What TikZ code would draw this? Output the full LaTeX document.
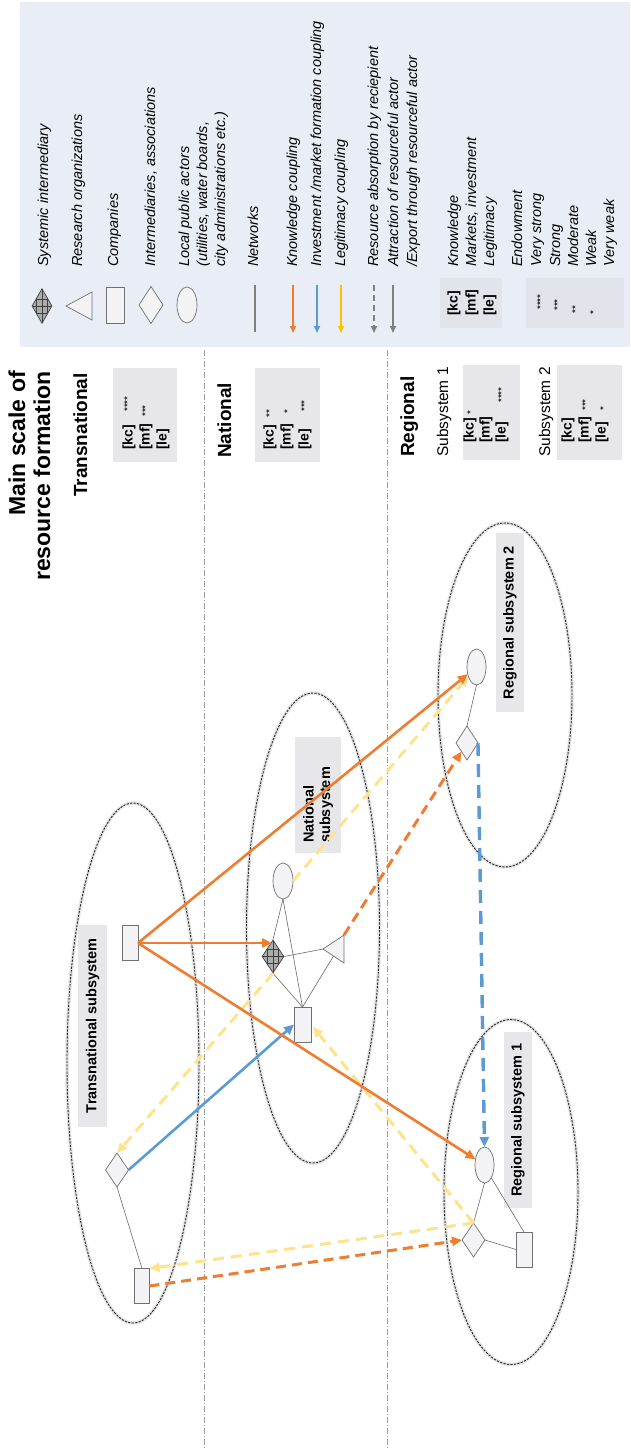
\documentclass[tikz,border=0pt]{standalone}
\usepackage{fontspec}
\setmainfont{Liberation Sans}
\usetikzlibrary{shapes.geometric,arrows.meta,calc}

\definecolor{kOrange}{HTML}{ED7D31}
\definecolor{kBlue}{HTML}{5B9BD5}
\definecolor{kGold}{HTML}{FFC000}
\definecolor{kPale}{HTML}{FFE28C}
\definecolor{legendBg}{HTML}{E9EEF6}
\definecolor{legendBox}{HTML}{E1E4EA}
\definecolor{labelBox}{HTML}{E7E7E9}
\definecolor{actorFill}{HTML}{F3F3F5}
\definecolor{actorLine}{HTML}{707070}
\definecolor{netLine}{HTML}{6A6A6A}
\definecolor{tipGray}{HTML}{7F7F7F}

\newcommand{\fsz}[2]{\fontsize{#1}{#2}\selectfont}

\begin{document}
\begin{tikzpicture}[x=1pt,y=-1pt,
  actor/.style={draw=actorLine, fill=actorFill, line width=0.7pt, inner sep=0pt, outer sep=0pt},
  actorpath/.style={draw=actorLine, fill=actorFill, line width=0.7pt, line join=miter},
  company/.style={actor, rectangle, minimum width=16pt, minimum height=35pt},
  interm/.style={actor, diamond, minimum width=23pt, minimum height=34pt},
  public/.style={actor, ellipse, minimum width=19pt, minimum height=36pt},
  sysint/.style={diamond, draw=black!75, fill=gray!65, line width=0.7pt, inner sep=0pt,
    minimum width=22pt, minimum height=33pt,
    path picture={
      \foreach \hh in {-5.5,0,5.5}{\draw[black!75,line width=0.5pt]
        ([xshift=\hh pt]path picture bounding box.north) -- ([xshift=\hh pt]path picture bounding box.south);}
      \foreach \hh in {-7,0,7}{\draw[black!75,line width=0.5pt]
        ([yshift=\hh pt]path picture bounding box.west) -- ([yshift=\hh pt]path picture bounding box.east);}
    }},
  resframe/.style={rectangle, inner sep=0pt, outer sep=0pt, minimum width=21pt, minimum height=28pt},
  net/.style={draw=netLine, line width=0.6pt},
  subsys/.style={ellipse, draw=black!85, line width=0.9pt, dash pattern=on 2.2pt off 1.3pt,
    inner sep=0pt, preaction={draw=gray!22, solid, line width=3.5pt}},
  labfont/.style={font=\bfseries\fsz{14.5}{16.5}},
  sublabel/.style={rotate=90, fill=labelBox, inner sep=0pt, labfont},
  tipM/.style={-{Triangle[length=10pt,width=9pt]}},
  know/.style={tipM, draw=kOrange, line width=2.6pt},
  knowd/.style={tipM, draw=kOrange, line width=3pt, dash pattern=on 10pt off 6pt},
  inv/.style={tipM, draw=kBlue, line width=2.6pt},
  invd/.style={tipM, draw=kBlue, line width=3.4pt, dash pattern=on 13pt off 8pt},
  legi/.style={tipM, draw=kPale, line width=3pt, dash pattern=on 11pt off 7pt},
  tipL/.style={-{Triangle[length=7pt,width=6pt]}, line width=1.6pt},
  vtext/.style={rotate=90, anchor=base west, inner sep=0pt},
  legtxt/.style={vtext, font=\itshape\fsz{14.5}{18}},
  boxtxt/.style={vtext, font=\bfseries\fsz{14}{16}},
  stars/.style={vtext, font=\fsz{10}{10}},
  scaletxt/.style={vtext, font=\bfseries\fsz{19}{22}},
  subtxt/.style={vtext, font=\fsz{15.5}{18}},
  titletxt/.style={rotate=90, anchor=base east, inner sep=0pt, font=\bfseries\fsz{23}{26}},
  scaleline/.style={draw=gray!75, line width=0.7pt, dash pattern=on 6pt off 2pt on 1pt off 2pt}
]

\useasboundingbox (0,0) rectangle (630,1450);
\fill[white] (0,0) rectangle (630,1450);

% ---------- legend panel ----------
\fill[legendBg] (20,2) rectangle (630,347);
\fill[legendBox] (440,278) rectangle (502,328);
\fill[legendBox] (526,278) rectangle (624,328);

\node[sysint, minimum width=20pt, minimum height=35pt] (lgSys) at (42,306) {};
\node[resframe, minimum width=26pt, minimum height=28pt] (lgRes) at (79,306) {};
\draw[actorpath] (lgRes.west) -- (lgRes.north east) -- (lgRes.south east) -- cycle;
\node[company, minimum width=18pt, minimum height=36pt] (lgCom) at (115,305) {};
\node[interm, minimum width=24pt, minimum height=37pt] (lgInt) at (151,305) {};
\node[public, minimum width=20pt, minimum height=36pt] (lgPub) at (187,305) {};

\coordinate (lgNetA) at (255,285); \coordinate (lgNetB) at (255,332);
\draw[draw=tipGray, line width=1.2pt] (lgNetA) -- (lgNetB);
\coordinate (lgKA) at (293,285); \coordinate (lgKB) at (293,333);
\draw[tipL, draw=kOrange] (lgKA) -- (lgKB);
\coordinate (lgIA) at (317,285); \coordinate (lgIB) at (317,333);
\draw[tipL, draw=kBlue] (lgIA) -- (lgIB);
\coordinate (lgLA) at (341,285); \coordinate (lgLB) at (341,333);
\draw[tipL, draw=kGold] (lgLA) -- (lgLB);
\coordinate (lgAbA) at (374,285); \coordinate (lgAbB) at (374,333);
\draw[tipL, draw=tipGray, dash pattern=on 6pt off 4pt] (lgAbA) -- (lgAbB);
\coordinate (lgAtA) at (393,285); \coordinate (lgAtB) at (393,333);
\draw[tipL, draw=tipGray] (lgAtA) -- (lgAtB);

\node[legtxt] (tx01) at (48,267) {Systemic intermediary};
\node[legtxt] (tx02) at (82,267) {Research organizations};
\node[legtxt] (tx03) at (118,267) {Companies};
\node[legtxt] (tx04) at (155,267) {Intermediaries, associations};
\node[legtxt] (tx05) at (189,267) {Local public actors};
\node[legtxt] (tx06) at (207,267) {(utilities, water boards,};
\node[legtxt] (tx07) at (225,267) {city administrations etc.)};
\node[legtxt] (tx08) at (258,267) {Networks};
\node[legtxt] (tx09) at (297,267) {Knowledge coupling};
\node[legtxt] (tx10) at (321,267) {Investment /market formation coupling};
\node[legtxt] (tx11) at (345,267) {Legitimacy coupling};
\node[legtxt] (tx12) at (378,267) {Resource absorption by reciepient};
\node[legtxt] (tx13) at (398,267) {Attraction of resourceful actor};
\node[legtxt] (tx14) at (417,267) {/Export through resourceful actor};
\node[legtxt] (tx15) at (458,267) {Knowledge};
\node[legtxt] (tx16) at (476,267) {Markets, investment};
\node[legtxt] (tx17) at (494,267) {Legitimacy};
\node[legtxt] (tx18) at (522,267) {Endowment};
\node[legtxt] (tx19) at (541,267) {Very strong};
\node[legtxt] (tx20) at (560,267) {Strong};
\node[legtxt] (tx21) at (578,267) {Moderate};
\node[legtxt] (tx22) at (596,267) {Weak};
\node[legtxt] (tx23) at (614,267) {Very weak};

\node[boxtxt] (lgKc) at (457.6,316) {[kc]};
\node[boxtxt] (lgMf) at (475.6,316) {[mf]};
\node[boxtxt] (lgLe) at (493.6,316) {[le]};
\node[stars] (lgS4) at (543.8,310) {****};
\node[stars] (lgS3) at (560.8,311) {***};
\node[stars] (lgS2) at (578.8,314) {**};
\node[stars] (lgS1) at (596.8,315) {*};

% ---------- scale column ----------
\draw[scaleline] (204,350) -- (204,1450);
\draw[scaleline] (387,350) -- (387,1450);

\node[titletxt] (title1) at (25,371) {Main scale of};
\node[titletxt] (title2) at (50,371) {resource formation};

\node[scaletxt] (scT) at (87,497) {Transnational};
\node[scaletxt] (scN) at (231,458) {National};
\node[scaletxt] (scR) at (414,457) {Regional};
\node[subtxt] (scR1) at (448,457) {Subsystem 1};
\node[subtxt] (scR2) at (550,457) {Subsystem 2};

\fill[labelBox] (113,368) rectangle (177,462);
\fill[labelBox] (255,368) rectangle (320,462);
\fill[labelBox] (463,365) rectangle (520,460);
\fill[labelBox] (557,365) rectangle (622,460);

\node[boxtxt] (tKc) at (132.6,450) {[kc]};
\node[boxtxt] (tMf) at (149.6,450) {[mf]};
\node[boxtxt] (tLe) at (166.6,450) {[le]};
\node[stars] (tS1) at (130.8,412) {****};
\node[stars] (tS2) at (148.8,417) {***};

\node[boxtxt] (nKc) at (273.6,450) {[kc]};
\node[boxtxt] (nMf) at (290.6,450) {[mf]};
\node[boxtxt] (nLe) at (308.6,450) {[le]};
\node[stars] (nS1) at (272.8,418) {**};
\node[stars] (nS2) at (290.8,414) {*};
\node[stars] (nS3) at (307.8,412) {***};

\node[boxtxt] (aKc) at (473.6,443) {[kc]};
\node[boxtxt] (aMf) at (489.6,443) {[mf]};
\node[boxtxt] (aLe) at (505.6,443) {[le]};
\node[stars] (aS1) at (473.8,415) {*};
\node[stars] (aS2) at (504.8,403) {****};

\node[boxtxt] (bKc) at (571.6,443) {[kc]};
\node[boxtxt] (bMf) at (588.6,443) {[mf]};
\node[boxtxt] (bLe) at (605.6,443) {[le]};
\node[stars] (bS1) at (588.8,411) {***};
\node[stars] (bS2) at (606.8,411) {*};

% ---------- subsystems ----------
\node[subsys, minimum width=132pt, minimum height=520pt] (sysT) at (133,1063) {};
\node[subsys, minimum width=133pt, minimum height=470pt] (sysN) at (313,928) {};
\node[subsys, minimum width=134pt, minimum height=344pt] (sysR2) at (505,695) {};
\node[subsys, minimum width=134pt, minimum height=345pt] (sysR1) at (511,1192) {};

\node[sublabel, minimum width=202pt, minimum height=29pt] (labT) at (92.5,1026) {Transnational subsystem};
\node[sublabel, minimum width=116pt, minimum height=46pt] (labN) at (318,795) {};
\node[rotate=90, anchor=west, align=left, inner sep=0pt, labfont] (labNt) at (318,843) {National\\subsystem};
\node[sublabel, minimum width=179pt, minimum height=28pt] (labR2) at (510,622.5) {Regional subsystem 2};
\node[sublabel, minimum width=176pt, minimum height=28pt] (labR1) at (518,1120) {Regional subsystem 1};

% ---------- actors ----------
\node[company] (Tc1) at (130,943) {};
\node[interm] (Tdia) at (117,1170) {};
\node[company, minimum width=15pt] (Tc2) at (142,1286) {};

\node[public, minimum width=20pt] (Nell) at (283,881) {};
\node[sysint] (Ndia) at (273,956.5) {};
\node[resframe] (Ntri) at (333.5,949) {};
\draw[actorpath] (Ntri.west) -- (Ntri.north east) -- (Ntri.south east) -- cycle;
\node[company, minimum width=17pt] (Nrect) at (302.5,1024.5) {};

\node[public] (R2ell) at (476.5,667) {};
\node[interm, minimum width=22pt] (R2dia) at (467,743) {};

\node[public] (R1ell) at (484.5,1165) {};
\node[interm] (R1dia) at (473.5,1240) {};
\node[company] (R1rect) at (524,1249.5) {};

% networks inside the subsystems
\draw[net] (Tdia.south) -- (Tc2.north);
\draw[net] (Nell.south) -- (Ndia.north);
\draw[net] (Nell.south) -- (Nrect.north);
\draw[net] (Ndia.east) -- (Ntri.west);
\draw[net] (Ndia.south) -- (Nrect.north);
\draw[net] ($(Ntri.west)!0.5!(Ntri.south east)$) -- (Nrect.north);
\draw[net] (R2ell.south) -- (R2dia.north);
\draw[net] (R1ell.south) -- (R1dia.north);
\draw[net] (R1ell.south east) -- (R1rect.north);
\draw[net] (R1dia.east) -- (R1rect.west);

% ---------- couplings ----------
\draw[legi] (R1dia.north) -- (Tc2.north east);
\draw[legi, shorten >=3pt] (R1dia.north) -- (Nrect.east);
\draw[legi] (Ndia.south) -- (Tdia.north);
\draw[legi] (Nell.east) -- (R2ell);

\draw[inv] (Tdia.east) -- (Nrect.west);
\draw[invd] (R2dia.east) -- (R1ell.north);

\draw[know, shorten >=1pt] (Tc1.east) -- (Tc1.east -| Ndia.north);
\draw[know] (Tc1.east) -- (R2ell);
\draw[know] (Tc1.east) -- (R1ell);
\draw[knowd] (Ntri.north east) -- (R2dia);
\draw[knowd] (Tc2.east) -- (R1dia.west);

\end{tikzpicture}
\end{document}
